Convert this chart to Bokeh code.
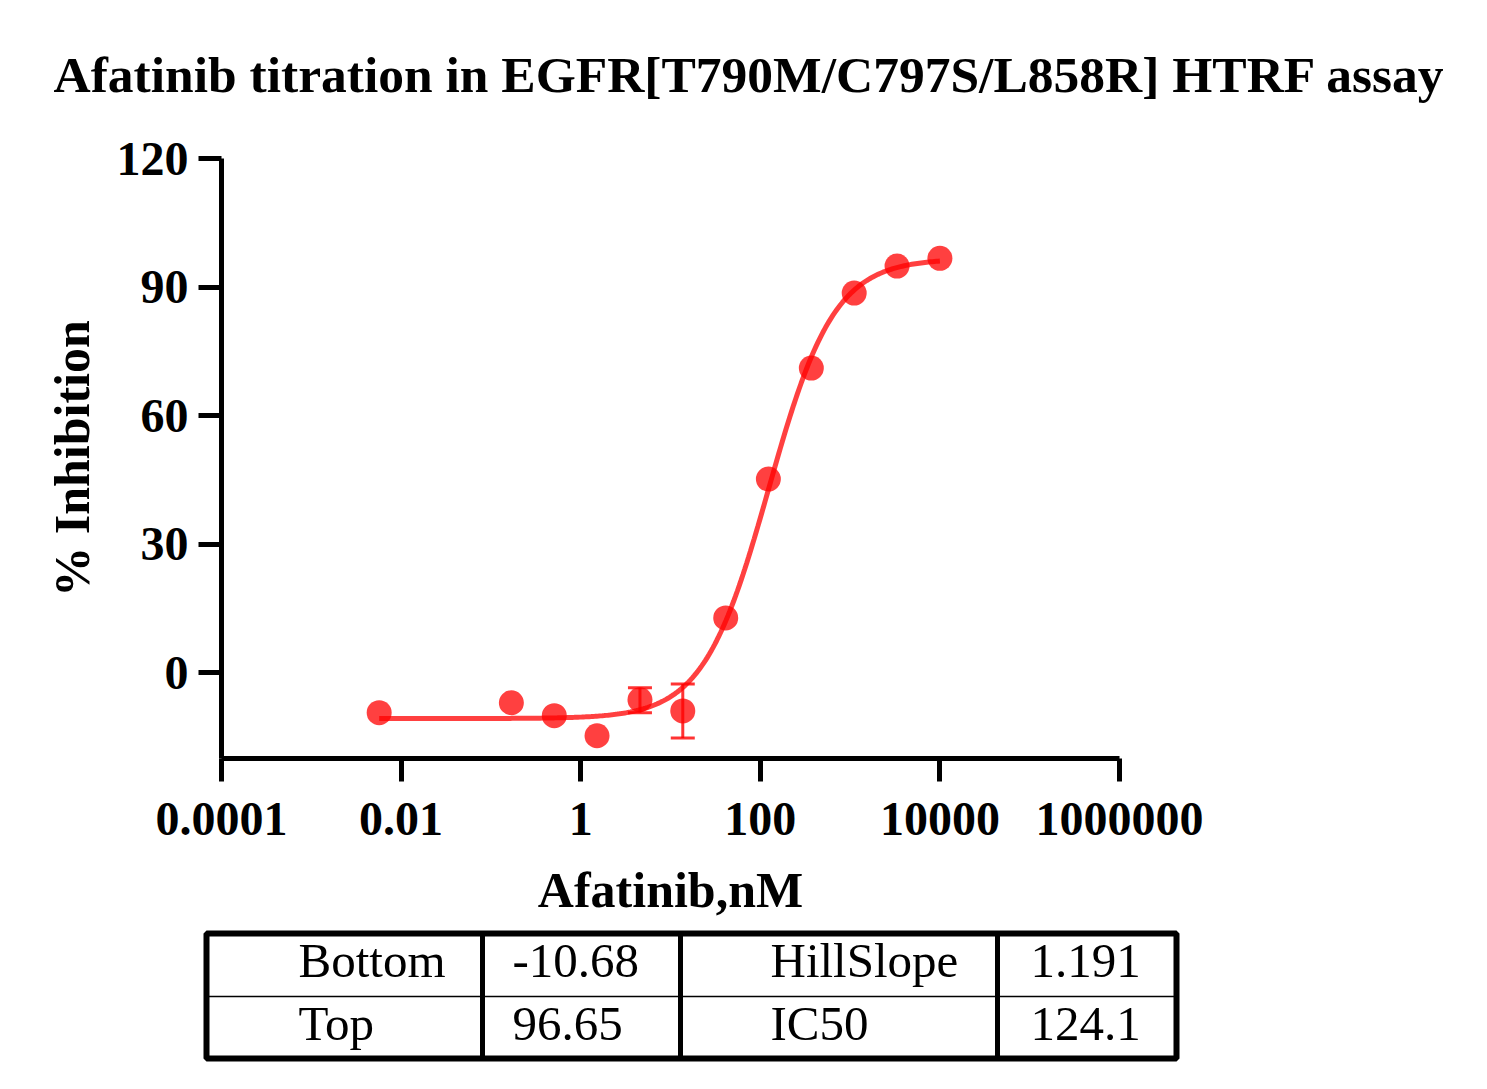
import numpy as np
from bokeh.plotting import figure
from bokeh.models import Range1d, FixedTicker, ColumnDataSource, LinearScale
from bokeh.core.properties import value
from bokeh.embed import file_html
from bokeh.resources import INLINE

# ---------------- data ----------------
title_text = "Afatinib titration in EGFR[T790M/C797S/L858R] HTRF assay"
x_label = "Afatinib,nM"
y_label = "% Inhibition"

conc_nM = [0.0057, 0.169, 0.508, 1.52, 4.57, 13.7, 41.2, 123, 370, 1111, 3333, 10000]
inhibition = [-9.3, -7.0, -10.0, -14.7, -6.3, -8.9, 12.8, 45.2, 71.1, 88.6, 94.9, 96.7]

err_conc = [4.57, 13.7]
err_upper = [-3.5, -2.6]
err_lower = [-9.3, -15.2]

x_ticks = [1e-4, 1e-2, 1, 100, 1e4, 1e6]
x_tick_labels = ["0.0001", "0.01", "1", "100", "10000", "1000000"]
y_ticks = [0, 30, 60, 90, 120]

fit_names_left = ["Bottom", "Top"]
fit_values_left = [-10.68, 96.65]
fit_names_right = ["HillSlope", "IC50"]
fit_values_right = [1.191, 124.1]

# fitted 4PL curve from the reported parameters
bottom, top = fit_values_left
hill, ic50 = fit_values_right
curve_x = np.logspace(np.log10(min(conc_nM)), np.log10(max(conc_nM)), 300)
curve_y = bottom + (top - bottom) / (1.0 + (ic50 / curve_x) ** hill)

RED = "#ff0000"
SERIF = "Liberation Serif"

W, H = 1487, 1089
FL, FR, FT, FB = 221, 1119, 158, 758  # frame edges in page pixels

p = figure(width=W, height=H, x_axis_type="log",
           x_range=Range1d(1e-4, 1e6), y_range=Range1d(-20, 120),
           toolbar_location=None, output_backend="svg",
           min_border_left=FL, min_border_right=W - FR,
           min_border_top=FT, min_border_bottom=H - FB)
p.grid.visible = False
p.outline_line_color = None
# pixel-like helper ranges (linear) for page furniture: title and table
p.extra_x_ranges = {"px": Range1d(FL, FR)}
p.extra_y_ranges = {"py": Range1d(FB, FT)}
p.extra_x_scales = {"px": LinearScale()}
p.extra_y_scales = {"py": LinearScale()}

# ---------------- main marks ----------------
p.line(curve_x, curve_y, line_color=RED, line_alpha=0.75, line_width=5)

src = ColumnDataSource(dict(x=conc_nM, y=inhibition))
p.scatter("x", "y", source=src, size=25, fill_color=RED, fill_alpha=0.75, line_color=None)

esrc = ColumnDataSource(dict(x=err_conc, up=err_upper, lo=err_lower))
p.segment(x0="x", y0="lo", x1="x", y1="up", source=esrc, line_color=RED, line_alpha=0.8, line_width=3)
p.scatter("x", "up", source=esrc, marker="dash", size=24, line_color=RED, line_alpha=0.8, line_width=3)
p.scatter("x", "lo", source=esrc, marker="dash", size=24, line_color=RED, line_alpha=0.8, line_width=3)

# ---------------- axes ----------------
p.xaxis.ticker = FixedTicker(ticks=x_ticks, minor_ticks=[])
p.xaxis.major_label_overrides = {t: l for t, l in zip(x_ticks, x_tick_labels)}
p.yaxis.ticker = FixedTicker(ticks=y_ticks, minor_ticks=[])
p.xaxis.axis_label = x_label
p.yaxis.axis_label = y_label

for ax in (p.xaxis[0], p.yaxis[0]):
    ax.axis_line_width = 5
    ax.axis_line_color = "black"
    ax.major_tick_line_width = 5
    ax.major_tick_line_color = "black"
    ax.major_tick_out = 23
    ax.major_tick_in = 0
    ax.minor_tick_out = 0
    ax.minor_tick_in = 0
    ax.major_label_text_font = SERIF
    ax.major_label_text_font_style = "bold"
    ax.major_label_text_font_size = "48px"
    ax.major_label_text_color = "black"
    ax.axis_label_text_font = SERIF
    ax.axis_label_text_font_style = "bold"
    ax.axis_label_text_font_size = "50px"
    ax.axis_label_text_color = "black"
p.xaxis.major_label_standoff = 21
p.xaxis.axis_label_standoff = 24
p.yaxis.major_label_standoff = 10
p.yaxis.axis_label_standoff = 14

# ---------------- title (overlay-level glyph so it is not clipped) ----------------
t_r = p.text(x=[749], y=[74], text=[title_text], x_range_name="px", y_range_name="py",
             text_font=value(SERIF), text_font_style="bold", text_font_size="51.5px",
             text_align="center", text_baseline="alphabetic", text_color="black")
t_r.level = "overlay"

# ---------------- parameter table ----------------
box = p.quad(left=[206], right=[1176], top=[933], bottom=[1058], fill_color=None,
             line_color="black", line_width=6, x_range_name="px", y_range_name="py")
vl = p.segment(x0=[482, 680, 997], y0=[933] * 3, x1=[482, 680, 997], y1=[1058] * 3,
               line_color="black", line_width=5, x_range_name="px", y_range_name="py")
hl = p.segment(x0=[206], y0=[996], x1=[1176], y1=[996], line_color="black", line_width=1.5,
               x_range_name="px", y_range_name="py")

row_base = [960, 1023]
tsrc = ColumnDataSource(dict(
    x=[298, 298, 512, 512, 770, 770, 1030, 1030],
    y=row_base * 4,
    t=fit_names_left + [str(v) for v in fit_values_left] + fit_names_right + [str(v) for v in fit_values_right],
))
tt = p.text(x="x", y="y", text="t", source=tsrc, x_range_name="px", y_range_name="py",
            text_font=value(SERIF), text_font_size="49px", text_align="left",
            text_baseline="alphabetic", text_color="black")
for r in (box, vl, hl, tt):
    r.level = "overlay"

open("out.html", "w").write(file_html(p, INLINE))
